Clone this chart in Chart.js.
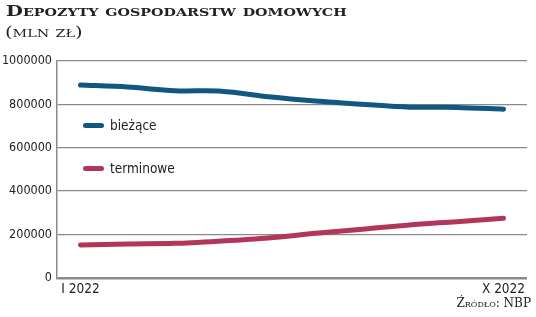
<!DOCTYPE html>
<html>
<head>
<meta charset="utf-8">
<script src="https://cdn.jsdelivr.net/npm/chart.js@4/dist/chart.umd.min.js"></script>
<style>
  body { margin: 0; background: #fff; }
  #wrap { position: relative; width: 536px; height: 317px; }
  .title { position: absolute; left: 6px; top: 2px; font-family: "DejaVu Serif", serif; font-variant: small-caps; font-weight: bold; font-size: 15px; color: #222; transform: scaleX(1.3); transform-origin: left top; white-space: nowrap; }
  .sub { position: absolute; left: 5px; top: 23px; font-family: "DejaVu Serif", serif; font-variant: small-caps; font-size: 15px; color: #222; transform: scaleX(1.3); transform-origin: left top; white-space: nowrap; }
  .src { position: absolute; right: 5px; top: 296px; font-family: "DejaVu Serif", serif; font-variant: small-caps; font-size: 12px; color: #222; }
  .leg { position: absolute; left: 83px; font-family: "DejaVu Sans Condensed", "DejaVu Sans", sans-serif; font-size: 13.5px; color: #222; }
  .leg span { display: inline-block; width: 21px; height: 5px; border-radius: 3px; vertical-align: middle; margin-right: 6px; position: relative; top: -1px; }
  canvas { position: absolute; left: 0; top: 0; }
</style>
</head>
<body>
<div id="wrap">
  <canvas id="myChart" width="536" height="317"></canvas>
  <div class="title">Depozyty gospodarstw domowych</div>
  <div class="sub">(mln zł)</div>
  <div class="leg" style="top:117px"><span style="background:#12577f"></span>bieżące</div>
  <div class="leg" style="top:160px"><span style="background:#b2365a"></span>terminowe</div>
  <div class="src">Źródło: NBP</div>
</div>
<script>
const months = ["I 2022", "II 2022", "III 2022", "IV 2022", "V 2022", "VI 2022", "VII 2022", "VIII 2022", "IX 2022", "X 2022"];
const biezace = [889000, 880000, 863000, 861000, 835000, 815000, 800000, 787000, 786000, 778000];
const terminowe = [151000, 156000, 159000, 170000, 184000, 205000, 224000, 244000, 259000, 275000];
const yTicks = [0, 200000, 400000, 600000, 800000, 1000000];
const tickFont = "'DejaVu Sans Condensed', 'DejaVu Sans', sans-serif";

const ctx = document.getElementById("myChart");
new Chart(ctx, {
  type: "line",
  data: {
    labels: months,
    datasets: [
      { label: "bieżące", data: biezace, borderColor: "#12577f", borderWidth: 5, pointRadius: 0, tension: 0.3, borderCapStyle: "round" },
      { label: "terminowe", data: terminowe, borderColor: "#b2365a", borderWidth: 5, pointRadius: 0, tension: 0.3, borderCapStyle: "round" }
    ]
  },
  options: {
    responsive: false,
    animation: false,
    layout: { padding: { left: 0, right: 9, top: 61, bottom: 15 } },
    plugins: { legend: { display: false }, tooltip: { enabled: false } },
    scales: {
      x: {
        offset: true,
        grid: { display: false, drawTicks: false },
        border: { display: false },
        ticks: {
          autoSkip: false, maxRotation: 0, padding: 4,
          color: "#222",
          font: { family: tickFont, size: 13.5 },
          callback: (v, i) => (i === 0 || i === months.length - 1) ? months[i] : ""
        }
      },
      y: {
        min: 0, max: 1000000,
        afterBuildTicks: s => { s.ticks = yTicks.map(v => ({ value: v })); },
        afterFit: s => { s.width = 57; },
        grid: {
          drawTicks: false,
          color: "#8a8a8a",
          lineWidth: c => c.tick && c.tick.value === 0 ? 2.5 : 1.2
        },
        border: { display: true, color: "#8a8a8a", width: 1.5 },
        ticks: {
          padding: 5, color: "#222",
          font: { family: tickFont, size: 12.5 },
          callback: v => String(v)
        }
      }
    }
  }
});
</script>
</body>
</html>
